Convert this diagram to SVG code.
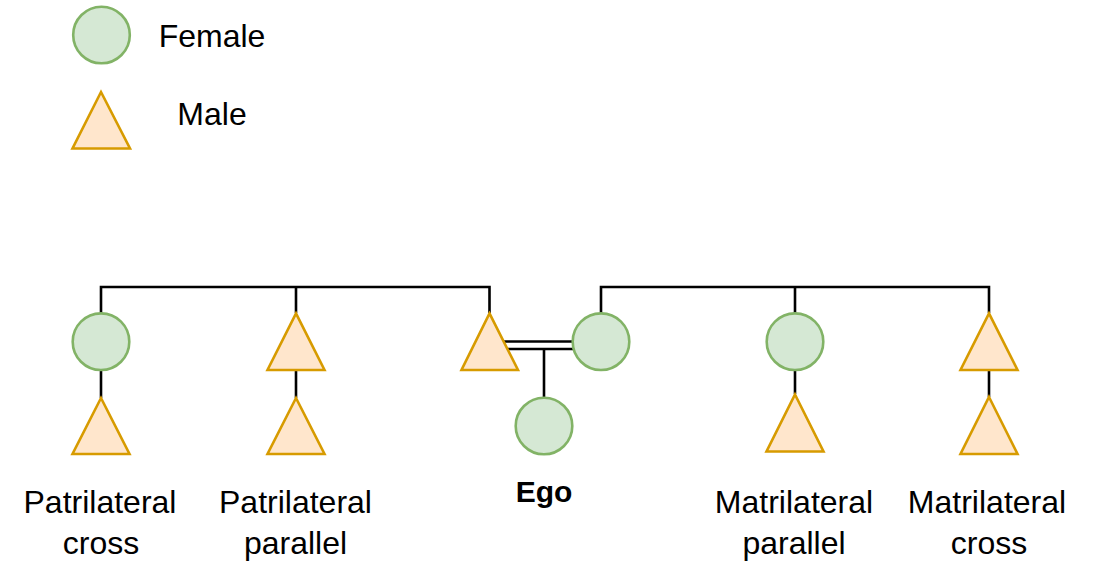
<svg xmlns="http://www.w3.org/2000/svg" width="1094" height="561" viewBox="0 0 1094 561">
<style>
.f{fill:#d5e8d4;stroke:#82b366;stroke-width:2.6}
.m{fill:#ffe6cc;stroke:#d79b00;stroke-width:2.6;stroke-linejoin:miter}
.e{fill:none;stroke:#000;stroke-width:2.6}
.t{font-family:"Liberation Sans",Arial,Helvetica,sans-serif;font-size:32px;fill:#000;text-anchor:middle}
.b{font-weight:bold;font-size:30px}
</style>
<rect width="1094" height="561" fill="#fff"/>
<g id="connectors">
<polyline class="e" points="101,313 101,287 489.5,287 489.5,313"/>
<line class="e" x1="296" y1="287" x2="296" y2="313"/>
<polyline class="e" points="601,313 601,287 989,287 989,313"/>
<line class="e" x1="795" y1="287" x2="795" y2="313"/>
<line class="e" x1="101" y1="370" x2="101" y2="398"/>
<line class="e" x1="296" y1="370" x2="296" y2="398"/>
<line class="e" x1="795" y1="370" x2="795" y2="394"/>
<line class="e" x1="989" y1="370" x2="989" y2="397"/>
<line class="e" x1="504" y1="341.5" x2="573" y2="341.5"/>
<line class="e" x1="508" y1="349" x2="573" y2="349"/>
<line class="e" x1="544" y1="349" x2="544" y2="398"/>
</g>
<g id="legend-female">
<circle class="f" cx="101.5" cy="35" r="28.3"/>
<text class="t" x="212" y="46.5">Female</text>
</g>
<g id="legend-male">
<polygon class="m" points="101,92 130,148.5 72.5,148.5"/>
<text class="t" x="212" y="125">Male</text>
</g>
<g id="pat-cross-parent"><circle class="f" cx="101" cy="341.7" r="28.3"/></g>
<g id="pat-cross"><polygon class="m" points="101,398 129.5,454 72.5,454"/></g>
<g id="pat-parallel-parent"><polygon class="m" points="296,313.3 324.5,370 267.5,370"/></g>
<g id="pat-parallel"><polygon class="m" points="296,398 324.5,454 267.5,454"/></g>
<g id="father"><polygon class="m" points="489.5,313.3 518,370 461.5,370"/></g>
<g id="mother"><circle class="f" cx="601" cy="341.7" r="28.3"/></g>
<g id="ego"><circle class="f" cx="544" cy="426" r="28.3"/></g>
<g id="mat-parallel-parent"><circle class="f" cx="795" cy="341.7" r="28.3"/></g>
<g id="mat-parallel"><polygon class="m" points="795,394.5 823.5,451.5 766.5,451.5"/></g>
<g id="mat-cross-parent"><polygon class="m" points="989,313.3 1017.5,370 960.5,370"/></g>
<g id="mat-cross"><polygon class="m" points="989,397 1017.5,454 960.5,454"/></g>
<g id="labels">
<text class="t"><tspan x="100" y="513">Patrilateral</tspan><tspan x="101" y="554">cross</tspan></text>
<text class="t"><tspan x="295.5" y="513">Patrilateral</tspan><tspan x="295.5" y="554">parallel</tspan></text>
<text class="t b" x="544" y="502">Ego</text>
<text class="t"><tspan x="794" y="513">Matrilateral</tspan><tspan x="794" y="554">parallel</tspan></text>
<text class="t"><tspan x="987" y="513">Matrilateral</tspan><tspan x="989" y="554">cross</tspan></text>
</g>
</svg>
